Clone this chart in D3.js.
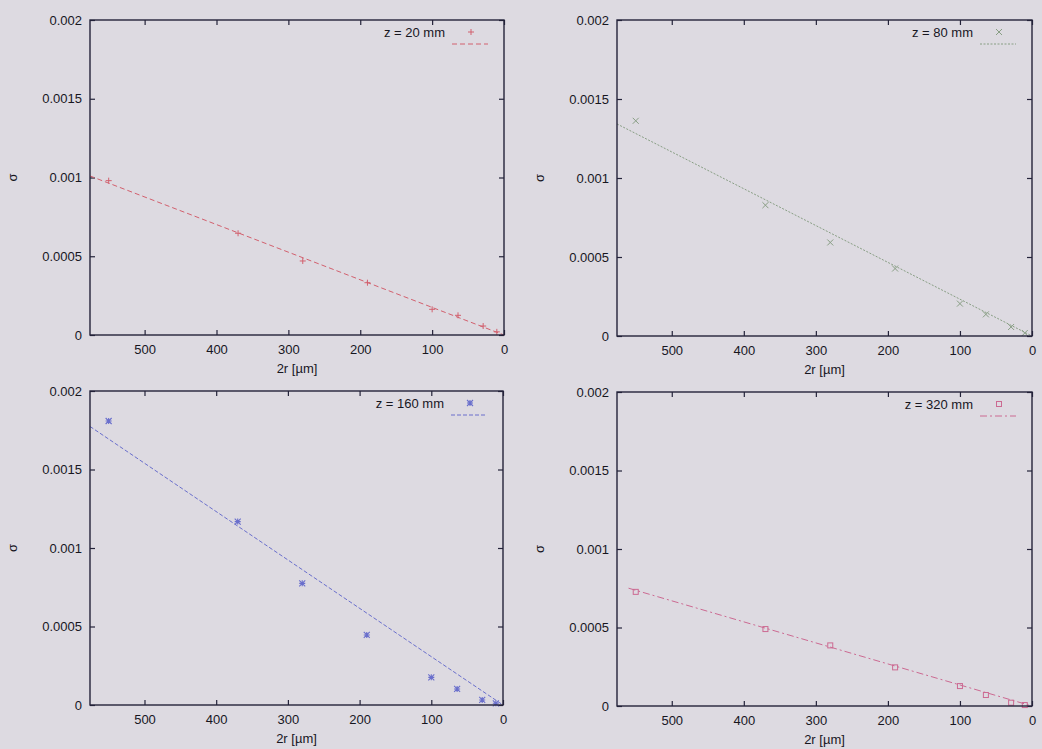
<!DOCTYPE html>
<html>
<head>
<meta charset="utf-8">
<script src="https://cdn.jsdelivr.net/npm/d3@7"></script>
<style>
  html, body { margin: 0; padding: 0; background: #dddae1; }
  svg { display: block; }
  text { font-family: "Liberation Sans", Arial, Helvetica, sans-serif; font-size: 13px; fill: #17161f; }
</style>
</head>
<body>
<svg id="chart" width="1042" height="749"></svg>
<script>
// Particle diameter 2r [µm] for each measured point
const diameters = [550, 370, 280, 190, 100, 64, 29, 10];

// Measured sigma at each distance z
const sigmaZ20  = [0.00098, 0.000646, 0.00047, 0.000332, 0.000163, 0.000125, 0.000057, 0.00002];
const sigmaZ80  = [0.001362, 0.000828, 0.000592, 0.000427, 0.000205, 0.000137, 0.000057, 0.000019];
const sigmaZ160 = [0.001809, 0.001168, 0.000775, 0.000446, 0.000176, 0.000102, 0.000032, 0.000011];
const sigmaZ320 = [0.000727, 0.00049, 0.000386, 0.000246, 0.000127, 0.00007, 0.000021, 0.000006];

// Linear fits sigma = slope * 2r + intercept, drawn over the given 2r range
const fitSlopes     = [1.753e-6, 2.33e-6, 3.08e-6, 1.34e-6];
const fitIntercepts = [0, 0, 0, 0];
const fitRanges     = [[576, 0], [576, 0], [576, 0], [560, 0]];

const panelTitles = ["z = 20 mm", "z = 80 mm", "z = 160 mm", "z = 320 mm"];
const xTicks = [500, 400, 300, 200, 100, 0];
const yTicks = [0, 0.0005, 0.001, 0.0015, 0.002];
const yTickLabels = ["0", "0.0005", "0.001", "0.0015", "0.002"];
const xDomain = [576, 0];
const yDomain = [0, 0.002];
const xLabel = "2r [µm]";
const yLabel = "σ";

const series = [sigmaZ20, sigmaZ80, sigmaZ160, sigmaZ320];
const colors = ["#d2606e", "#889e84", "#6a6fcc", "#cc6a92"];
const dashes = ["5,3", "2,1.5", "4,2", "7,3,2,3"];
const markerTypes = ["plus", "cross", "star", "square"];

// Plot frames (left, top, right, bottom)
const frames = [
  [90, 20, 504, 335],
  [617, 20, 1032, 336],
  [90, 391, 503, 705],
  [617, 392, 1032, 706]
];

const svg = d3.select("#chart");
const axisColor = "#24233a";

function drawMarker(g, type, cx, cy, color) {
  const s = 3;
  if (type === "plus") {
    g.append("path").attr("d", `M${cx - s},${cy}H${cx + s}M${cx},${cy - s}V${cy + s}`)
      .attr("stroke", color).attr("stroke-width", 1).attr("fill", "none");
  } else if (type === "cross") {
    g.append("path").attr("d", `M${cx - s},${cy - s}L${cx + s},${cy + s}M${cx - s},${cy + s}L${cx + s},${cy - s}`)
      .attr("stroke", color).attr("stroke-width", 1).attr("fill", "none");
  } else if (type === "star") {
    g.append("path").attr("d", `M${cx - s},${cy}H${cx + s}M${cx},${cy - s}V${cy + s}M${cx - s},${cy - s}L${cx + s},${cy + s}M${cx - s},${cy + s}L${cx + s},${cy - s}`)
      .attr("stroke", color).attr("stroke-width", 1.1).attr("fill", "none");
  } else {
    g.append("rect").attr("x", cx - 2.5).attr("y", cy - 2.5).attr("width", 5).attr("height", 5)
      .attr("stroke", color).attr("stroke-width", 1).attr("fill", "none");
  }
}

frames.forEach((f, i) => {
  const [l, t, r, b] = f;
  const x = d3.scaleLinear().domain(xDomain).range([l, r]);
  const y = d3.scaleLinear().domain(yDomain).range([b, t]);
  const g = svg.append("g");

  // Bottom axis with inward ticks and labels
  g.append("g").attr("transform", `translate(0,${b})`)
    .call(d3.axisBottom(x).tickValues(xTicks).tickFormat(d3.format("d")).tickSizeInner(-5).tickSizeOuter(0).tickPadding(10))
    .call(a => a.select(".domain").remove())
    .call(a => a.selectAll("line").attr("stroke", axisColor).attr("stroke-width", 1.2))
    .call(a => a.selectAll("text").attr("font-size", 13).attr("fill", "#17161f").attr("font-family", null));

  // Top mirrored ticks
  g.append("g").attr("transform", `translate(0,${t})`)
    .call(d3.axisTop(x).tickValues(xTicks).tickFormat("").tickSizeInner(-5).tickSizeOuter(0))
    .call(a => a.select(".domain").remove())
    .call(a => a.selectAll("line").attr("stroke", axisColor).attr("stroke-width", 1.2));

  // Left axis
  g.append("g").attr("transform", `translate(${l},0)`)
    .call(d3.axisLeft(y).tickValues(yTicks).tickFormat((d, k) => yTickLabels[k]).tickSizeInner(-5).tickSizeOuter(0).tickPadding(8))
    .call(a => a.select(".domain").remove())
    .call(a => a.selectAll("line").attr("stroke", axisColor).attr("stroke-width", 1.2))
    .call(a => a.selectAll("text").attr("font-size", 13).attr("fill", "#17161f").attr("font-family", null));

  // Right mirrored ticks
  g.append("g").attr("transform", `translate(${r},0)`)
    .call(d3.axisRight(y).tickValues(yTicks).tickFormat("").tickSizeInner(-5).tickSizeOuter(0))
    .call(a => a.select(".domain").remove())
    .call(a => a.selectAll("line").attr("stroke", axisColor).attr("stroke-width", 1.2));

  // Axis titles
  g.append("text").attr("x", (l + r) / 2).attr("y", b + 38).attr("text-anchor", "middle").text(xLabel);
  g.append("text").attr("transform", `translate(${l - 73.5},${(t + b) / 2}) rotate(-90)`)
    .attr("text-anchor", "middle").text(yLabel);

  // Fit line
  const fitData = fitRanges[i].map(d => ({ d, s: fitSlopes[i] * d + fitIntercepts[i] }));
  const line = d3.line().x(p => x(p.d)).y(p => y(p.s));
  g.append("path").datum(fitData).attr("d", line)
    .attr("fill", "none").attr("stroke", colors[i]).attr("stroke-width", 1)
    .attr("stroke-dasharray", dashes[i]);

  // Measured points
  const pts = g.append("g");
  diameters.forEach((d, k) => drawMarker(pts, markerTypes[i], x(d), y(series[i][k]), colors[i]));

  // Legend
  g.append("text").attr("x", r - 59).attr("y", t + 16.5).attr("text-anchor", "end").text(panelTitles[i]);
  drawMarker(g, markerTypes[i], r - 33, t + 12, colors[i]);
  g.append("line").attr("x1", r - 52).attr("x2", r - 16).attr("y1", t + 24).attr("y2", t + 24)
    .attr("stroke", colors[i]).attr("stroke-width", 1).attr("stroke-dasharray", dashes[i]);

  // Frame
  g.append("rect").attr("x", l).attr("y", t).attr("width", r - l).attr("height", b - t)
    .attr("fill", "none").attr("stroke", axisColor).attr("stroke-width", 1.4);
});
</script>
</body>
</html>
